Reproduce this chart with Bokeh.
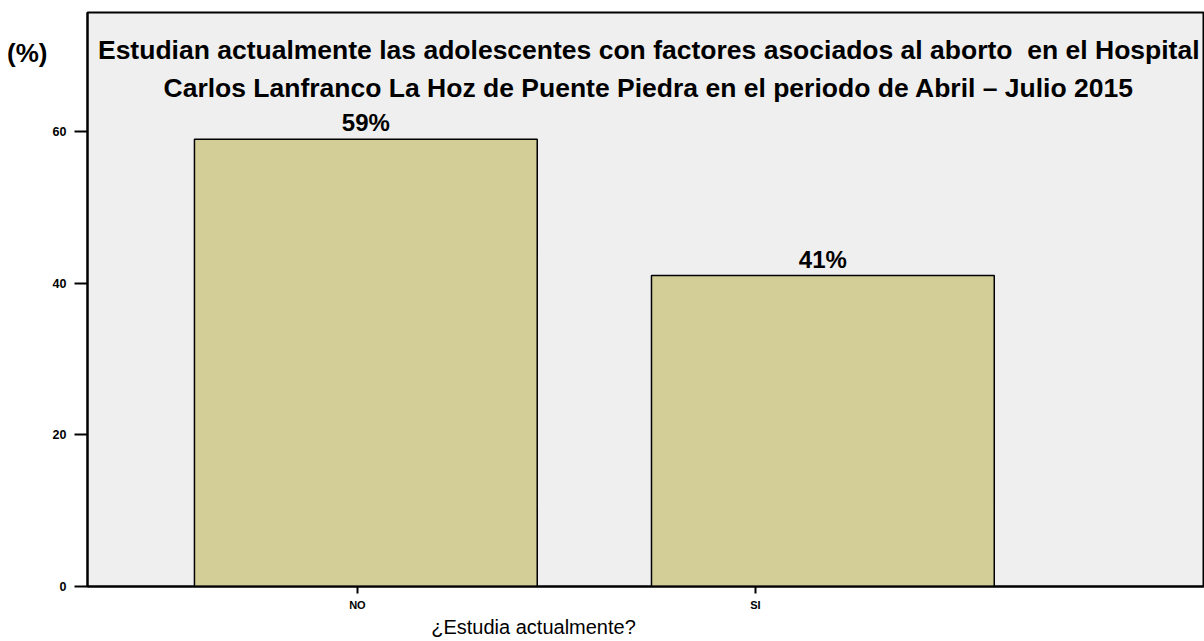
from bokeh.plotting import figure
from bokeh.models import Range1d, LinearAxis, FixedTicker, Label, ColumnDataSource
from bokeh.core.properties import value
from bokeh.embed import file_html
from bokeh.resources import INLINE

# Data
categories = ["NO", "SI"]
percentages = [59, 41]
bar_labels = ["59%", "41%"]
y_ticks = [0, 20, 40, 60]

title_lines = [
    "Estudian actualmente las adolescentes con factores asociados al aborto\u00a0 en el Hospital",
    "Carlos Lanfranco La Hoz de Puente Piedra en el periodo de Abril \u2013 Julio 2015",
]
unit_text = "(%)"
x_caption = "\u00bfEstudia actualmente?"

FONT = "Liberation Sans"
BAR_FILL = "#D3CE98"

# Frame geometry (pixels)
W, H = 1204, 641
LEFT, TOP, BOTTOM = 87, 12, 55
frame_w = W - LEFT
frame_h = H - TOP - BOTTOM

Y_MAX = 75.7
CAT_RANGE = (-0.178, 2.628)


def cat_x(px):
    """Canvas x pixel -> coordinate on the category tick range."""
    return CAT_RANGE[0] + (px - LEFT) / frame_w * (CAT_RANGE[1] - CAT_RANGE[0])


def val_y(py):
    """Canvas y pixel -> value on the percentage scale."""
    return (H - BOTTOM - py) / frame_h * Y_MAX


xpos = [i + 0.5 for i in range(len(categories))]
src = ColumnDataSource(dict(x=xpos, top=percentages, label=bar_labels, cat=categories))

p = figure(
    width=W, height=H,
    x_range=Range1d(-0.109, 2.335), y_range=Range1d(0, Y_MAX),
    output_backend="svg", toolbar_location=None,
    x_axis_location=None, y_axis_location="left",
    min_border_left=LEFT, min_border_right=0, min_border_top=TOP, min_border_bottom=BOTTOM,
)
p.background_fill_color = "#EFEFEF"
p.border_fill_color = "white"
p.outline_line_color = "black"
p.outline_line_width = 2
p.grid.visible = False

p.vbar(x="x", top="top", width=0.75, source=src, fill_color=BAR_FILL,
       line_color="black", line_width=1.5)

p.text(x="x", y="top", text="label", source=src, text_align="center",
       text_baseline="bottom", y_offset=-3, text_font_size="24px",
       text_font_style="bold", text_color="black", text_font=value(FONT))


def style_axis(ax, size, bold=True, tick_out=0, line=True, standoff=5):
    ax.axis_line_color = "black" if line else None
    ax.axis_line_width = 2
    ax.major_tick_line_color = "black" if tick_out else None
    ax.major_tick_line_width = 2
    ax.major_tick_out = tick_out
    ax.major_tick_in = 0
    ax.minor_tick_line_color = None
    ax.major_label_text_font = FONT
    ax.major_label_text_font_style = "bold" if bold else "normal"
    ax.major_label_text_font_size = size
    ax.major_label_text_color = "black"
    ax.major_label_standoff = standoff


# Percentage axis
ya = p.yaxis[0]
ya.ticker = FixedTicker(ticks=y_ticks)
style_axis(ya, "12.5px", tick_out=13, standoff=8)

# Unit marker to the left of the percentage axis
p.extra_y_ranges = {"unit": Range1d(0, Y_MAX)}
unit_y = val_y(52)
ua = LinearAxis(y_range_name="unit", ticker=FixedTicker(ticks=[unit_y]),
                major_label_overrides={unit_y: unit_text})
style_axis(ua, "26px", line=False, standoff=2)
p.add_layout(ua, "left")

# Category axis below
p.extra_x_ranges = {"cats": Range1d(*CAT_RANGE)}
xa = LinearAxis(x_range_name="cats", ticker=FixedTicker(ticks=xpos),
                major_label_overrides={xv: c for xv, c in zip(xpos, categories)})
style_axis(xa, "11px", tick_out=7, standoff=5)
p.add_layout(xa, "below")

# Axis caption under the categories
cap_x = cat_x(533)
ca = LinearAxis(x_range_name="cats", ticker=FixedTicker(ticks=[cap_x]),
                major_label_overrides={cap_x: x_caption})
style_axis(ca, "20px", bold=False, line=False, standoff=2)
p.add_layout(ca, "below")

# Title inside the frame
for ty, line in zip([70.7, 65.7], title_lines):
    p.add_layout(Label(x=1.119, y=ty, text=line, text_align="center",
                       text_baseline="middle", text_font=FONT,
                       text_font_size="26.5px", text_font_style="bold",
                       text_color="black"))

open("out.html", "w").write(file_html(p, INLINE))
